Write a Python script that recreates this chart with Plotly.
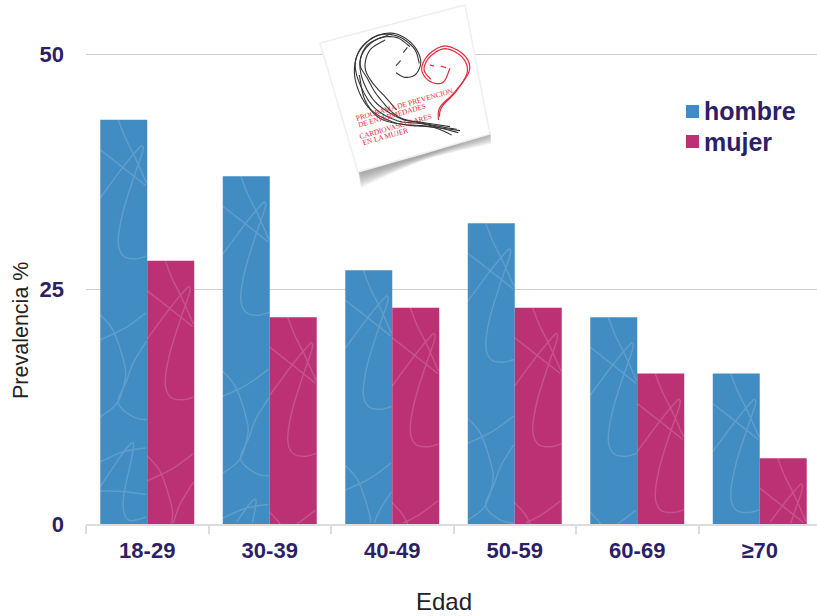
import plotly.graph_objects as go

# Prevalence by age band and sex
edades = ["18-29", "30-39", "40-49", "50-59", "60-69", "≥70"]
hombre = [43, 37, 27, 32, 22, 16]
mujer = [28, 22, 23, 23, 16, 7]

W, H = 817, 616
L, R, T, B = 86, 817, 52, 524
CAT_PX = 122.5
Y_PX = 9.4
Y_MAX = (B - T) / Y_PX
BARGAP = 0.233
AZUL, MAGENTA, TINTA = "#418cc2", "#bc3174", "#2d1f66"
SANS = "Liberation Sans, Arial, sans-serif"


def smooth(pts, steps=10):
    """Catmull-Rom curve through the given points."""
    p = [pts[0]] + list(pts) + [pts[-1]]
    out = []
    for i in range(1, len(p) - 2):
        for s in range(steps):
            t = s / steps
            row = []
            for k in (0, 1):
                a, b, c, d = p[i - 1][k], p[i][k], p[i + 1][k], p[i + 2][k]
                row.append(0.5 * (2 * b + (c - a) * t + (2 * a - 5 * b + 4 * c - d) * t * t
                                  + (3 * b - a - 3 * c + d) * t ** 3))
            out.append(tuple(row))
    out.append(tuple(pts[-1]))
    return out


# Decorative thread texture; offsets in pixels from a bar's top-left corner
HILOS = [
    [(18, 0), (25, 18), (35, 38), (47, 65)],
    [(0, 30), (23, 48), (47, 67)],
    [(0, 78), (23, 47), (38, 29), (42, 26), (42, 33), (32, 62), (22, 95), (18, 122), (23, 136), (35, 139), (47, 136)],
    [(0, 220), (25, 208), (47, 192)],
    [(47, 220), (33, 243), (26, 262), (18, 283), (33, 297), (47, 300)],
    [(0, 195), (13, 211), (23, 240), (25, 258), (17, 283), (0, 297)],
    [(0, 342), (23, 332), (47, 328)],
    [(0, 367), (20, 337), (32, 323), (32, 335), (23, 380), (28, 400), (47, 397)],
    [(0, 371), (25, 372), (47, 375)],
]


def textura(centro_idx, lado, valor):
    """One path with the thread texture clipped to a single bar."""
    ancho = (1 - BARGAP) / 2
    izq = centro_idx - ancho + lado * ancho
    alto_px = valor * Y_PX
    ancho_px = ancho * CAT_PX
    partes = []
    for hilo in HILOS:
        pluma = False
        for px, py in smooth(hilo):
            if 0 <= px <= ancho_px and 0 <= py <= alto_px:
                x = izq + px / CAT_PX
                y = valor - py / Y_PX
                partes.append(f"{'L' if pluma else 'M'}{x:.4f},{y:.3f}")
                pluma = True
            else:
                pluma = False
    return " ".join(partes)


def px_x(x):
    return (x - L) / (R - L)


def px_y(y):
    return (B - y) / (B - T)


def trazo(pts):
    return "M" + " L".join(f"{px_x(x):.5f},{px_y(y):.5f}" for x, y in pts)


def zona(pts):
    return trazo(pts) + " Z"


def logo(x, y):
    """Logo sketch coordinates to page pixels."""
    return (310 + x / 3, y / 3)


shapes = []

for i in range(len(edades)):
    for lado, valor in ((0, hombre[i]), (1, mujer[i])):
        shapes.append(dict(type="path", xref="x", yref="y", path=textura(i, lado, valor),
                           line=dict(color="rgba(255,255,255,0.16)", width=1.5), layer="above"))

# Curled sticker: soft shadow under the lower edge, then the white card
N_SOMBRA = 12
for n in range(N_SOMBRA):
    offs = 1 - n / N_SOMBRA
    borde = smooth([(358, 170), (420, 155), (490, 132)])
    bajo = smooth([(491, 132 + 12 * offs), (425, 155 + 5 * offs), (361, 172 + 16 * offs)])
    shapes.append(dict(type="path", xref="paper", yref="paper", path=zona(borde + bajo),
                       fillcolor="rgba(120,120,120,0.075)", line=dict(width=0), layer="above"))
shapes.append(dict(type="path", xref="paper", yref="paper",
                   path=zona([(320, 43), (465, 5), (490, 134), (358, 172)]),
                   fillcolor="white", line=dict(color="#efefef", width=1.5), layer="above"))

# Black strands of the heart
NEGROS = [
    [(445, 398), (340, 372), (262, 362), (190, 320), (143, 235), (140, 170), (185, 115), (250, 100), (305, 130), (332, 180), (318, 222), (285, 232), (258, 218)],
    [(450, 392), (345, 378), (255, 368), (175, 322), (135, 235), (146, 155), (200, 108), (262, 108), (312, 145), (328, 190)],
    [(420, 380), (330, 366), (270, 355), (195, 305), (155, 230), (155, 165), (200, 118), (258, 112), (300, 140)],
    [(425, 405), (370, 382), (290, 375), (210, 355), (165, 300), (148, 225)],
    [(260, 330), (225, 290), (185, 245), (165, 200), (180, 150), (225, 120)],
    [(440, 388), (350, 372), (265, 350), (205, 290), (172, 235), (150, 190), (172, 135), (235, 105)],
    [(280, 158), (292, 142)],
    [(258, 197), (272, 182)],
]
for tira in NEGROS:
    shapes.append(dict(type="path", xref="paper", yref="paper",
                       path=trazo([logo(*q) for q in smooth(tira)]),
                       line=dict(color="#333333", width=1.1), layer="above"))

# Red strands of the heart
ROJOS = [
    [(385, 360), (390, 322), (435, 275), (478, 212), (462, 165), (405, 138), (355, 165), (335, 208), (358, 243), (398, 248), (420, 205)],
    [(388, 350), (396, 320), (440, 272), (472, 215), (455, 170), (405, 146), (360, 170), (342, 208), (362, 238)],
    [(360, 195), (372, 198)],
    [(392, 198), (408, 203)],
]
for tira in ROJOS:
    shapes.append(dict(type="path", xref="paper", yref="paper",
                       path=trazo([logo(*q) for q in smooth(tira)]),
                       line=dict(color="#e4283c", width=1.2), layer="above"))

# Hand-placed legend keys
shapes.append(dict(type="rect", xref="paper", yref="paper", x0=px_x(686), x1=px_x(699),
                   y0=px_y(118), y1=px_y(105), fillcolor=AZUL, line=dict(width=0), layer="above"))
shapes.append(dict(type="rect", xref="paper", yref="paper", x0=px_x(686), x1=px_x(699),
                   y0=px_y(148), y1=px_y(135), fillcolor=MAGENTA, line=dict(width=0), layer="above"))


def rotulo(texto, x, y, size, color, angle=0, family=SANS, weight=None):
    return dict(text=texto, xref="paper", yref="paper", x=px_x(x), y=px_y(y),
                xanchor="center", yanchor="middle", showarrow=False, textangle=angle,
                font=dict(size=size, color=color, family=family, weight=weight))


annotations = [
    rotulo("hombre", 750, 111, 25, TINTA, weight=700),
    rotulo("mujer", 738, 142, 25, TINTA, weight=700),
    rotulo("Prevalencia %", 21, 331, 21.5, "#222222", angle=-90),
    rotulo("Edad", 444, 601, 24, "#222222"),
]
SERIF = "Liberation Serif, Times New Roman, serif"
for texto, lx, ly in (("PROGRAMA DE PREVENCION", 282, 312), ("DE ENFERMEDADES", 245, 347),
                      ("CARDIOVASCULARES", 255, 378), ("EN LA MUJER", 225, 410)):
    x, y = logo(lx, ly)
    annotations.append(rotulo(texto, x, y, 7.3, "#e4283c", angle=-16, family=SERIF))

fig = go.Figure()
fig.add_bar(name="hombre", x=edades, y=hombre, marker=dict(color=AZUL, line=dict(width=0)))
fig.add_bar(name="mujer", x=edades, y=mujer, marker=dict(color=MAGENTA, line=dict(width=0)))

fig.update_layout(
    width=W, height=H, autosize=False,
    margin=dict(l=L, r=W - R, t=T, b=H - B, pad=0),
    paper_bgcolor="white", plot_bgcolor="white",
    barmode="group", bargap=BARGAP, bargroupgap=0,
    showlegend=False, shapes=shapes, annotations=annotations,
    font=dict(family=SANS),
)
fig.update_xaxes(
    type="category", range=[-0.5, (R - L) / CAT_PX - 0.5], tickson="boundaries",
    ticks="outside", ticklen=8, tickwidth=1.5, tickcolor="#dcdcdc",
    showline=True, linecolor="#dcdcdc", linewidth=1.5, showgrid=False,
    tickfont=dict(size=22, color=TINTA, family=SANS, weight=700), ticklabelstandoff=6,
)
fig.update_yaxes(
    range=[0, Y_MAX], tickvals=[0, 25, 50], ticks="", showline=False, zeroline=False,
    showgrid=True, gridcolor="#cfcfcf", gridwidth=1.3,
    tickfont=dict(size=22, color=TINTA, family=SANS, weight=700), ticklabelstandoff=21,
)

fig.write_html("out.html")
